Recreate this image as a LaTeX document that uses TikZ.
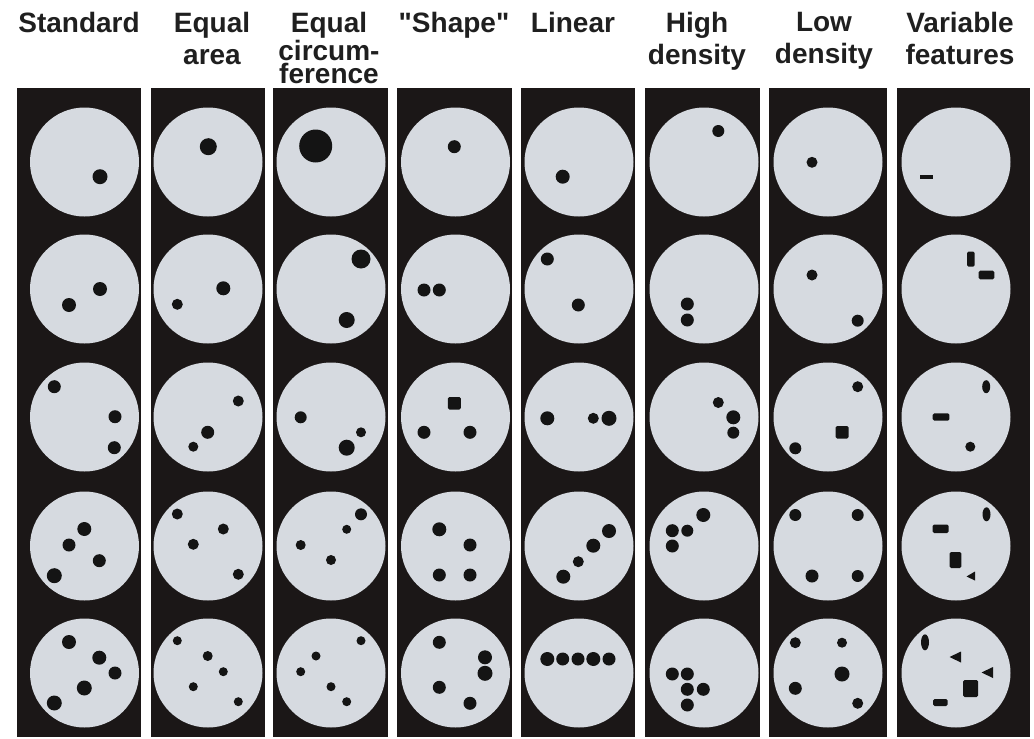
\documentclass[tikz,border=0pt]{standalone}
\usepackage{fontspec}
\setmainfont{Liberation Sans}[Ligatures=TeXOff]

\begin{document}
\begin{tikzpicture}[x=1pt, y=-1pt]
\definecolor{stripDark}{HTML}{1B1717}
\definecolor{dishGrey}{HTML}{D6DAE0}
\definecolor{spotBlack}{HTML}{141414}

\tikzset{
    heading/.style={
        font=\fontsize{28}{32}\selectfont\bfseries, align=center,
        anchor=north, inner sep=0pt, text=black!88,
    },
    strip/.style={fill=stripDark},
    dish/.style={fill=dishGrey},
    spot/.style={fill=spotBlack},
    block/.style={fill=spotBlack, rounded corners=1.5pt},
}

\useasboundingbox (0,0) rectangle (1034,739);

% column headings
\node[heading] (hStandard) at (79,12.5) {Standard};
\node[heading] (hArea) at (212,12.5) {Equal\\area};
\node[heading, font=\fontsize{28}{23.5}\selectfont\bfseries] (hCircum) at (329,12.5)
    {Equal\\circum-\\ference};
\node[heading] (hShape) at (454,12.5) {"Shape"};
\node[heading] (hLinear) at (573,12.5) {Linear};
\node[heading] (hHigh) at (697,12.5) {High\\density};
\node[heading] (hLow) at (824,12.5) {Low\\density};
\node[heading] (hVariable) at (960,12.5) {Variable\\features};

% dark strips with five grey dishes each: left/right/dish centre
\foreach \l/\r/\c in {17/141/84.5, 151/265/208, 273/388/331, 397/512/455.5,
                      521/635/579, 645/760/704, 769/887/828, 897/1030/956}{
    \fill[strip] (\l,88) rectangle (\r,737);
    \foreach \y in {162,289,417,546,673}
        \fill[dish] (\c,\y) circle (54.5pt);
}

% Standard
\fill[spot] (100,176.7) circle (7.5pt);
\fill[spot] (100,289) circle (7pt) (69,305) circle (7pt);
\fill[spot] (54.3,386.7) circle (6.5pt) (115,416.7) circle (6.5pt) (114.3,447.7) circle (6.5pt);
\fill[spot] (84.3,529) circle (7pt) (69,545) circle (6.5pt) (99.3,560.7) circle (6.5pt)
    (54.3,575.7) circle (7.5pt);
\fill[spot] (69,642) circle (7pt) (99.3,657.7) circle (7pt) (115,673) circle (6.5pt)
    (84.3,688) circle (7.5pt) (54.3,703) circle (7.5pt);

% Equal area
\fill[spot] (208.3,146.7) circle (8.5pt);
\fill[spot] (223.3,288.3) circle (7pt) (177.3,304.3) circle (5.5pt);
\fill[spot] (238.3,401) circle (5.5pt) (207.7,432.3) circle (6.5pt) (193.3,446.7) circle (5pt);
\fill[spot] (177.3,514) circle (5.5pt) (223.3,529) circle (5.5pt) (193.3,544.3) circle (5.5pt)
    (238.3,574.3) circle (5.5pt);
\fill[spot] (177.3,640.7) circle (4.5pt) (207.7,656) circle (5pt) (223.3,671.7) circle (4.5pt)
    (193.3,686.7) circle (4.5pt) (238.3,701.7) circle (4.5pt);

% Equal circumference
\fill[spot] (315.7,146) circle (16.5pt);
\fill[spot] (361,259) circle (9.5pt) (346.7,320) circle (8pt);
\fill[spot] (300.7,417.3) circle (6pt) (361,432.3) circle (5pt) (346.7,447.7) circle (8pt);
\fill[spot] (361,514.3) circle (6pt) (346.7,529.3) circle (4.5pt) (300.7,545) circle (5pt)
    (331,560) circle (5pt);
\fill[spot] (361,640.7) circle (4.5pt) (316,656) circle (4.5pt) (300.7,671.7) circle (4.5pt)
    (331,686.7) circle (4.5pt) (346.7,701.7) circle (4.5pt);

% "Shape"
\fill[spot] (454.3,146.7) circle (6.5pt);
\fill[spot] (424,290) circle (6.5pt) (439.3,290) circle (6.5pt);
\fill[block] (447.8,397) rectangle (460.8,409.5);
\fill[spot] (424,432.3) circle (6.5pt) (470,432.3) circle (6.5pt);
\fill[spot] (439.3,529.3) circle (7pt) (470,545) circle (6.5pt) (439.3,575) circle (6.5pt)
    (470,575) circle (6.5pt);
\fill[spot] (439.3,642.3) circle (6.5pt) (485,657.3) circle (7pt) (485,673.3) circle (7.5pt)
    (439.3,687.3) circle (6.5pt) (470,703.3) circle (6.5pt);

% Linear
\fill[spot] (562.7,176.7) circle (7pt);
\fill[spot] (547.3,259) circle (6.5pt) (578.3,305) circle (6.5pt);
\fill[spot] (547.3,418.3) circle (7pt) (593.3,418.3) circle (5.5pt) (609,418.3) circle (7.5pt);
\fill[spot] (609,531) circle (7pt) (593.3,545.7) circle (7pt) (578.3,561.7) circle (5.5pt)
    (563.3,576.7) circle (7pt);
\fill[spot] (547.3,659) circle (7pt) (562.7,659) circle (6.5pt) (578,659) circle (6.5pt)
    (593.3,659) circle (7pt) (609,659) circle (6.5pt);

% High density
\fill[spot] (718.3,131) circle (6pt);
\fill[spot] (687.3,304) circle (6.5pt) (687.3,320) circle (6.5pt);
\fill[spot] (718.3,402.5) circle (5.5pt) (733.3,417.3) circle (7pt) (733.3,432.7) circle (6pt);
\fill[spot] (703.3,515) circle (7pt) (687.3,530.7) circle (6pt) (672.3,530.7) circle (6.5pt)
    (672.3,546) circle (6.5pt);
\fill[spot] (672.3,674) circle (6.5pt) (687.3,674) circle (6.5pt) (687.3,689.3) circle (6.5pt)
    (703.3,689.3) circle (6.5pt) (687.3,705) circle (6.5pt);

% Low density
\fill[spot] (812,162.3) circle (5.5pt);
\fill[spot] (812,275) circle (5.5pt) (857.7,320.7) circle (6pt);
\fill[spot] (857.7,386.7) circle (5.5pt) (795.3,448.3) circle (6pt);
\fill[block] (835.5,426) rectangle (848.5,438.5);
\fill[spot] (795.3,515) circle (6pt) (857.7,515) circle (6pt) (812,576) circle (6.5pt)
    (857.7,576) circle (6pt);
\fill[spot] (795.3,642.7) circle (5.5pt) (842,642.7) circle (5pt) (842,674) circle (7.5pt)
    (795.3,688.3) circle (6.5pt) (857.7,703.3) circle (5.5pt);

% Variable features
\fill[spot] (919.7,174.7) rectangle (932.7,178.7);
\fill[block] (967,251.7) rectangle (974.7,266.7);
\fill[block] (978.7,270.7) rectangle (994.3,279.3);
\fill[spot] (986.2,386.7) ellipse [x radius=4pt, y radius=6.5pt];
\fill[block] (932.7,413.3) rectangle (949.3,420.7);
\fill[spot] (970.3,446.7) circle (5pt);
\fill[spot] (986.5,514.3) ellipse [x radius=4pt, y radius=7pt];
\fill[block] (932.7,524.5) rectangle (948.7,533);
\fill[block] (949.5,552) rectangle (961.3,568);
\fill[spot] (966.5,576.5) -- (975,571.5) -- (975,580.5) -- cycle;
\fill[spot] (925,642.3) ellipse [x radius=4pt, y radius=8pt];
\fill[spot] (949.5,657) -- (961,651.5) -- (961,662.5) -- cycle;
\fill[spot] (981.5,672.5) -- (993,667) -- (993,678) -- cycle;
\fill[block] (963,680) rectangle (978,697);
\fill[block] (933,699) rectangle (947.7,706);

\end{tikzpicture}
\end{document}
